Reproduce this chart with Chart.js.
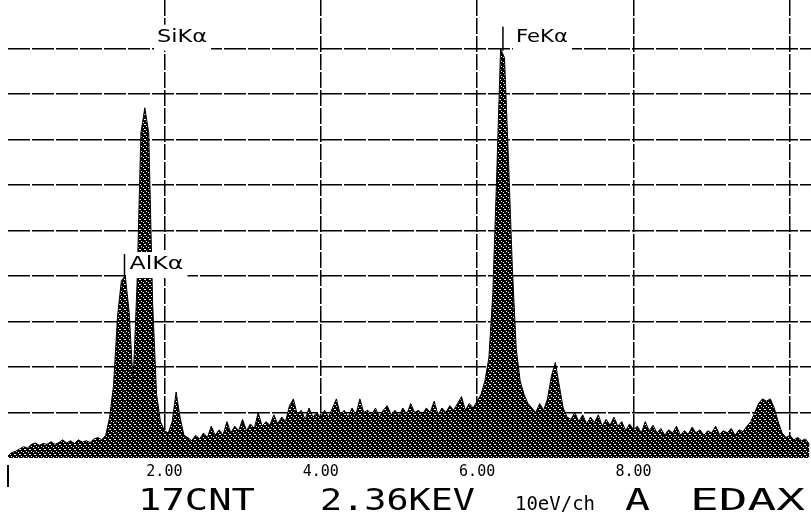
<!DOCTYPE html>
<html lang="en">
<head>
<meta charset="UTF-8">
<title>EDAX spectrum</title>
<style>
  html, body { margin: 0; padding: 0; background: #fff; }
  #wrap { position: relative; width: 811px; height: 515px; }
</style>
</head>
<body>
<div id="wrap"><canvas id="spectrum" width="811" height="515"></canvas></div>
<script src="https://cdn.jsdelivr.net/npm/chart.js@4"></script>
<script>
// channel energies (keV) and heights, in grid divisions above the baseline
const energyKeV = [
  0.00, 0.05, 0.10, 0.15, 0.20, 0.25, 0.30, 0.35, 0.40, 0.45, 0.50, 0.55, 0.60, 0.65, 0.70, 0.75, 0.80, 0.85, 0.90, 0.95,
  1.00, 1.05, 1.10, 1.15, 1.20, 1.25, 1.30, 1.35, 1.40, 1.45, 1.50, 1.55, 1.60, 1.65, 1.70, 1.75, 1.80, 1.85, 1.90, 1.95,
  2.00, 2.05, 2.10, 2.15, 2.20, 2.25, 2.30, 2.35, 2.40, 2.45, 2.50, 2.55, 2.60, 2.65, 2.70, 2.75, 2.80, 2.85, 2.90, 2.95,
  3.00, 3.05, 3.10, 3.15, 3.20, 3.25, 3.30, 3.35, 3.40, 3.45, 3.50, 3.55, 3.60, 3.65, 3.70, 3.75, 3.80, 3.85, 3.90, 3.95,
  4.00, 4.05, 4.10, 4.15, 4.20, 4.25, 4.30, 4.35, 4.40, 4.45, 4.50, 4.55, 4.60, 4.65, 4.70, 4.75, 4.80, 4.85, 4.90, 4.95,
  5.00, 5.05, 5.10, 5.15, 5.20, 5.25, 5.30, 5.35, 5.40, 5.45, 5.50, 5.55, 5.60, 5.65, 5.70, 5.75, 5.80, 5.85, 5.90, 5.95,
  6.00, 6.05, 6.10, 6.15, 6.20, 6.25, 6.30, 6.35, 6.40, 6.45, 6.50, 6.55, 6.60, 6.65, 6.70, 6.75, 6.80, 6.85, 6.90, 6.95,
  7.00, 7.05, 7.10, 7.15, 7.20, 7.25, 7.30, 7.35, 7.40, 7.45, 7.50, 7.55, 7.60, 7.65, 7.70, 7.75, 7.80, 7.85, 7.90, 7.95,
  8.00, 8.05, 8.10, 8.15, 8.20, 8.25, 8.30, 8.35, 8.40, 8.45, 8.50, 8.55, 8.60, 8.65, 8.70, 8.75, 8.80, 8.85, 8.90, 8.95,
  9.00, 9.05, 9.10, 9.15, 9.20, 9.25, 9.30, 9.35, 9.40, 9.45, 9.50, 9.55, 9.60, 9.65, 9.70, 9.75, 9.80, 9.85, 9.90, 9.95,
  10.00, 10.05, 10.10, 10.15, 10.20, 10.25
];
const counts = [
  0.05, 0.12, 0.15, 0.20, 0.25, 0.22, 0.30, 0.33, 0.28, 0.32, 0.30, 0.36, 0.30, 0.34, 0.40, 0.33, 0.38, 0.32, 0.40, 0.35,
  0.38, 0.34, 0.42, 0.45, 0.40, 0.50, 0.90, 1.60, 3.10, 3.90, 4.00, 3.20, 1.65, 3.80, 7.15, 7.70, 7.15, 3.40, 1.40, 0.80,
  0.60, 0.55, 0.80, 1.45, 0.90, 0.50, 0.45, 0.38, 0.50, 0.42, 0.55, 0.45, 0.70, 0.50, 0.62, 0.50, 0.80, 0.55, 0.70, 0.60,
  0.85, 0.60, 0.75, 0.65, 1.00, 0.70, 0.80, 0.72, 0.95, 0.75, 0.90, 0.80, 1.15, 1.30, 0.95, 1.05, 0.85, 1.10, 0.90, 1.00,
  0.88, 1.05, 0.90, 1.10, 1.30, 0.95, 1.05, 0.90, 1.10, 0.95, 1.30, 1.00, 1.05, 0.95, 1.10, 0.90, 1.05, 1.15, 0.95, 1.05,
  0.92, 1.10, 0.95, 1.20, 1.00, 1.05, 0.95, 1.10, 1.00, 1.25, 0.95, 1.10, 1.00, 1.15, 1.05, 1.20, 1.35, 1.05, 1.20, 1.10,
  1.25, 1.40, 1.70, 2.20, 3.60, 6.20, 9.00, 8.80, 6.60, 4.20, 2.40, 1.70, 1.40, 1.20, 1.10, 1.00, 1.20, 1.05, 1.30, 1.80,
  2.10, 1.60, 1.10, 0.90, 0.85, 1.00, 0.80, 0.95, 0.75, 0.90, 0.78, 0.95, 0.70, 0.85, 0.72, 0.90, 0.70, 0.80, 0.60, 0.75,
  0.62, 0.70, 0.55, 0.80, 0.60, 0.72, 0.55, 0.65, 0.50, 0.62, 0.55, 0.70, 0.50, 0.60, 0.52, 0.68, 0.55, 0.62, 0.50, 0.60,
  0.55, 0.70, 0.52, 0.60, 0.55, 0.65, 0.50, 0.62, 0.58, 0.70, 0.80, 1.00, 1.20, 1.30, 1.25, 1.30, 1.10, 0.80, 0.55, 0.45,
  0.50, 0.40, 0.45, 0.38, 0.42, 0.30
];
const xGridKeV = [2, 4, 6, 8, 10];
const xTickLabels = ['2.00', '4.00', '6.00', '8.00', ''];
const yGridDivs = [1, 2, 3, 4, 5, 6, 7, 8, 9];
const peakNames = ['SiKα', 'AlKα', 'FeKα'];
const peakKeV = [1.74, 1.49, 6.33];
const footerTexts = ['17CNT', '2.36KEV', '10eV/ch', 'A', 'EDAX'];

// speckled fill like the dot-matrix print
const tile = document.createElement('canvas');
tile.width = 5; tile.height = 5;
const tc = tile.getContext('2d');
tc.fillStyle = '#000';
tc.fillRect(0, 0, 5, 5);
tc.fillStyle = '#fff';
[[1, 1], [3, 2], [0, 4], [4, 4]].forEach(([a, b]) => tc.fillRect(a, b, 1, 1));
const speckle = tc.createPattern(tile, 'repeat');

const points = energyKeV.map((e, i) => ({ x: e, y: counts[i] }));

const labelPlugin = {
  id: 'edaxLabels',
  afterDraw(chart) {
    const ctx = chart.ctx;
    const xs = chart.scales.x, ys = chart.scales.y;
    // label boxes: text offset from marker, grid level, stretched width
    const place = [
      { dx: 13, level: 9, width: 50, marker: false },
      { dx: 5, level: 4, width: 54, marker: true },
      { dx: 13, level: 9, width: 52, marker: true }
    ];
    ctx.save();
    ctx.font = '17px "DejaVu Sans"';
    ctx.textBaseline = 'middle';
    peakNames.forEach((name, i) => {
      const p = place[i];
      const mx = xs.getPixelForValue(peakKeV[i]);
      const cy = ys.getPixelForValue(p.level) - 11;
      const left = mx + p.dx;
      const w = ctx.measureText(name).width;
      ctx.fillStyle = '#fff';
      ctx.fillRect(left - 3, cy - 13, p.width + 7, 26);
      ctx.fillStyle = '#000';
      ctx.save();
      ctx.translate(left, cy);
      ctx.scale(p.width / w, 1);
      ctx.fillText(name, 0, 0);
      ctx.restore();
      if (p.marker) {
        ctx.fillRect(mx - 0.75, cy - 11, 1.5, 24);
      }
    });

    // zero marker under the axis
    const x0 = xs.getPixelForValue(0);
    ctx.fillRect(x0 - 1, 465, 2, 22);

    // footer line of the EDAX printout
    const slots = [[138, 255, 30], [320, 475, 30], [515, 595, 19], [625, 650, 30], [690, 805, 30]];
    ctx.textBaseline = 'alphabetic';
    footerTexts.forEach((t, i) => {
      const [a, b, size] = slots[i];
      ctx.font = size + 'px "DejaVu Sans Mono"';
      const w = ctx.measureText(t).width;
      ctx.save();
      ctx.translate(a, 510);
      ctx.scale((b - a) / w, 1);
      ctx.fillText(t, 0, 0);
      ctx.restore();
    });
    ctx.restore();
  }
};

new Chart(document.getElementById('spectrum'), {
  type: 'line',
  data: {
    datasets: [{
      data: points,
      borderColor: '#000',
      borderWidth: 1,
      backgroundColor: speckle,
      fill: 'origin',
      pointRadius: 0,
      tension: 0
    }]
  },
  options: {
    responsive: false,
    devicePixelRatio: 1,
    animation: false,
    layout: { padding: { left: 8, right: 0, top: 0, bottom: 0 } },
    plugins: { legend: { display: false }, tooltip: { enabled: false } },
    scales: {
      x: {
        type: 'linear',
        min: 0,
        max: 10.27,
        afterBuildTicks: s => { s.ticks = xGridKeV.map(v => ({ value: v })); },
        afterFit: s => { s.height = 57; },
        ticks: {
          autoSkip: false,
          maxRotation: 0,
          padding: 5,
          color: '#000',
          font: { family: '"DejaVu Sans Mono"', size: 15 },
          callback: (v, i) => xTickLabels[i]
        },
        grid: { color: '#000', lineWidth: 1.5, drawTicks: false },
        border: { display: false, dash: [16, 2] }
      },
      y: {
        min: 0,
        max: 10.07,
        afterBuildTicks: s => { s.ticks = yGridDivs.map(v => ({ value: v })); },
        afterFit: s => { s.width = 0; },
        ticks: { display: false },
        grid: { color: '#000', lineWidth: 1.5, drawTicks: false },
        border: { display: false, dash: [22, 2] }
      }
    }
  },
  plugins: [labelPlugin]
});
</script>
</body>
</html>
